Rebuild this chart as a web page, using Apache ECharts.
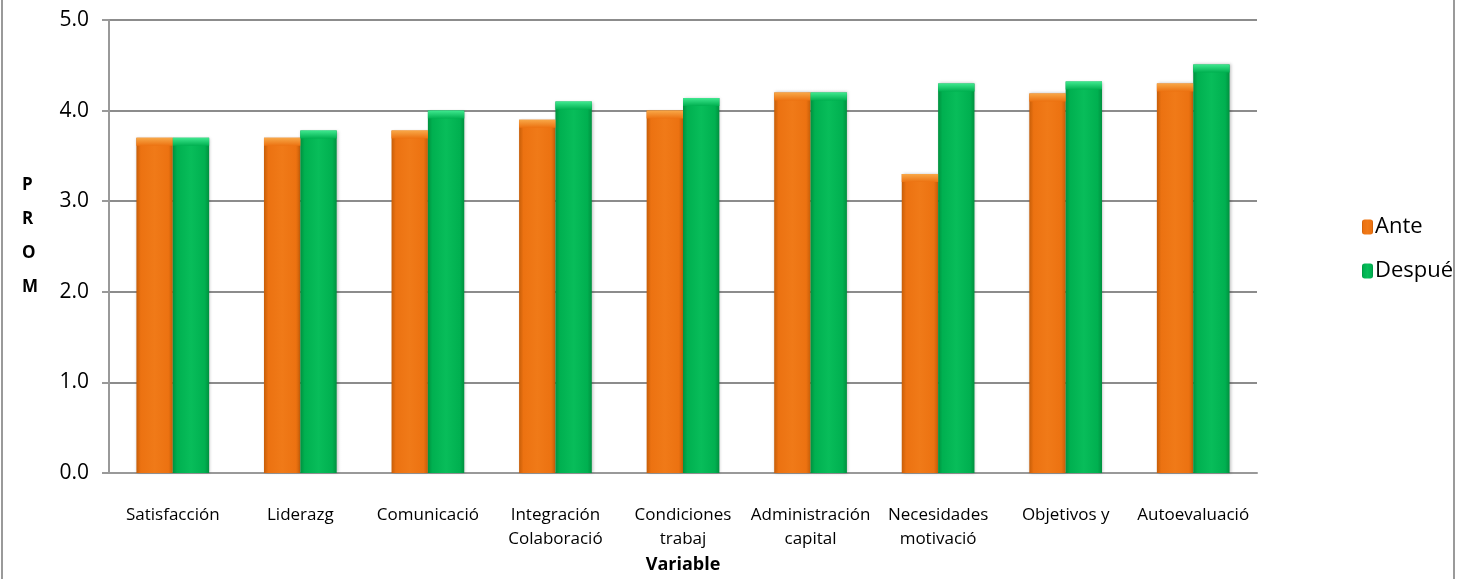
<!DOCTYPE html>
<html><head><meta charset="utf-8">
<script src="https://cdn.jsdelivr.net/npm/echarts@6/dist/echarts.min.js"></script>
<style>html,body{margin:0;padding:0;background:#fff}#c{width:1458px;height:579px}</style>
</head><body><div id="c"></div>
<script>
const categories = ['Satisfacción','Liderazg','Comunicació','Integración\nColaboració','Condiciones\ntrabaj','Administración\ncapital','Necesidades\nmotivació','Objetivos y','Autoevaluació'];
const ante = [3.7, 3.7, 3.78, 3.9, 4.0, 4.2, 3.3, 4.19, 4.3];
const despue = [3.7, 3.78, 4.0, 4.1, 4.14, 4.2, 4.3, 4.32, 4.51];
const seriesNames = ['Ante', 'Despué'];
const yTicks = {min: 0, max: 5, interval: 1};

const font = '"Open Sans", "Noto Sans", sans-serif';
function grad(base, dark, light){
  return new echarts.graphic.LinearGradient(0,0,1,0,[
    {offset:0, color:dark},{offset:0.12, color:base},{offset:0.5, color:light},{offset:0.88, color:base},{offset:1, color:dark}
  ]);
}
function capGrad(top, base){
  return new echarts.graphic.LinearGradient(0,0,0,1,[{offset:0,color:top},{offset:1,color:base}]);
}
const chart = echarts.init(document.getElementById('c'), null, {renderer:'canvas'});
chart.setOption({
  animation:false,
  backgroundColor:'#fff',
  textStyle:{fontFamily:font},
  grid:{left:109, right:201, top:20, bottom:106, containLabel:false},
  graphic:[
    {type:'rect', shape:{x:2,y:-5,width:1452,height:590}, style:{fill:'none', stroke:'#9a9a9a', lineWidth:2}, silent:true},
    {type:'text', left:22, top:168, style:{text:'P\nR\nO\nM', font:'bold 17px '+font, fill:'#000', lineHeight:34, align:'left'}}
  ],
  legend:{
    orient:'vertical', left:1357, top:210, itemWidth:11, itemHeight:15, itemGap:20,
    textStyle:{fontSize:22, lineHeight:24, color:'#000', fontFamily:font, padding:[0,0,0,-3]},
    data:seriesNames
  },
  xAxis:{
    type:'category', data:categories,
    name:'Variable', nameLocation:'middle', nameGap:80,
    nameTextStyle:{fontSize:18, fontWeight:'bold', color:'#000', fontFamily:font},
    axisLine:{lineStyle:{color:'#999', width:2}},
    axisTick:{show:false},
    axisLabel:{color:'#000', fontSize:17, margin:30, interval:0, lineHeight:24, fontFamily:font}
  },
  yAxis:{
    type:'value', min:yTicks.min, max:yTicks.max, interval:yTicks.interval,
    axisLine:{show:true, lineStyle:{color:'#999', width:2}},
    axisTick:{show:true, inside:false, length:7, lineStyle:{color:'#999', width:2}},
    axisLabel:{color:'#000', fontSize:21, margin:20, padding:[14,0,0,0], formatter:v=>v.toFixed(1), fontFamily:font},
    splitLine:{lineStyle:{color:'#8c8c8c', width:2}}
  },
  series:[
    {name:seriesNames[0], type:'bar', data:ante, barGap:'0%', barCategoryGap:'43%',
     itemStyle:{color:grad('#EC7211','#c75e08','#f07a18'), shadowColor:'rgba(0,0,0,0.25)', shadowBlur:3, shadowOffsetX:1}},
    {name:seriesNames[1], type:'bar', data:despue, barGap:'0%', barCategoryGap:'43%',
     itemStyle:{color:grad('#00B050','#00913f','#08bd5a'), shadowColor:'rgba(0,0,0,0.25)', shadowBlur:3, shadowOffsetX:1}},
    {name:'capA', type:'pictorialBar', data:ante, barGap:'0%', barCategoryGap:'43%', symbol:'rect',
     symbolSize:['100%', 8], symbolPosition:'end', symbolOffset:[0, 0], z:3, silent:true,
     itemStyle:{color:capGrad('#F8A848','#EC7211')}},
    {name:'capD', type:'pictorialBar', data:despue, barGap:'0%', barCategoryGap:'43%', symbol:'rect',
     symbolSize:['100%', 8], symbolPosition:'end', symbolOffset:[0, 0], z:3, silent:true,
     itemStyle:{color:capGrad('#3FE88F','#00B050')}}
  ]
});
</script></body></html>
